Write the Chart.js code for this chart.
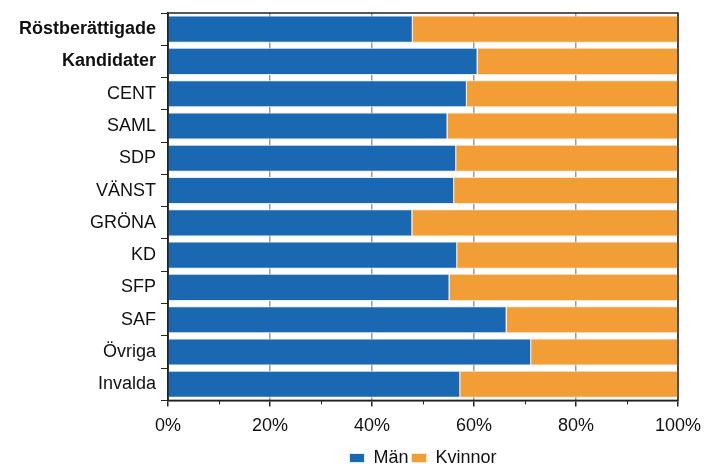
<!DOCTYPE html>
<html>
<head>
<meta charset="utf-8">
<script src="https://cdn.jsdelivr.net/npm/chart.js@4"></script>
<style>
html,body{margin:0;padding:0;background:#fff;}
#wrap{width:705px;height:464px;position:relative;}
</style>
</head>
<body>
<div id="wrap"><canvas id="c" width="705" height="464"></canvas></div>
<script>
const categories = ["Röstberättigade","Kandidater","CENT","SAML","SDP","VÄNST","GRÖNA","KD","SFP","SAF","Övriga","Invalda"];
const boldCategories = ["Röstberättigade","Kandidater"];
const manValues = [48.0, 60.7, 58.6, 54.8, 56.5, 56.1, 47.9, 56.7, 55.2, 66.4, 71.2, 57.3];
const kvinnorValues = [52.0, 39.3, 41.4, 45.2, 43.5, 43.9, 52.1, 43.3, 44.8, 33.6, 28.8, 42.7];
const seriesNames = ["Män", "Kvinnor"];
const xTickLabels = ["0%","","20%","","40%","","60%","","80%","","100%"];

const FONT = "'Liberation Sans', Arial, sans-serif";

const framePlugin = {
  id: 'frame',
  beforeDraw(chart) {
    // centre the legend under the plot area instead of the whole canvas
    const lg = chart.legend, a = chart.chartArea;
    if (lg && !lg._shifted) {
      const delta = (a.left + a.right) / 2 - (lg.left + lg.right) / 2;
      lg.left += delta; lg.right += delta;
      lg._shifted = true;
    }
  },
  afterDatasetsDraw(chart) {
    const a = chart.chartArea, ctx = chart.ctx, x = chart.scales.x;
    ctx.save();
    ctx.strokeStyle = '#222';
    ctx.lineWidth = 1.5;
    ctx.strokeRect(a.left, a.top, a.right - a.left, a.bottom - a.top);
    // short minor tick marks
    ctx.lineWidth = 1;
    x.ticks.forEach(t => {
      if (t.value % 20 !== 0) {
        const px = Math.round(x.getPixelForValue(t.value)) + 0.5;
        ctx.beginPath(); ctx.moveTo(px, a.bottom); ctx.lineTo(px, a.bottom + 4); ctx.stroke();
      }
    });
    ctx.restore();
  }
};

new Chart(document.getElementById('c'), {
  type: 'bar',
  data: {
    labels: categories,
    datasets: [
      { label: seriesNames[0], data: manValues, backgroundColor: '#1a68b1', borderColor: '#e3edf7', borderWidth: 1 },
      { label: seriesNames[1], data: kvinnorValues, backgroundColor: '#f29d35', borderColor: '#fbe6cc', borderWidth: 1 }
    ]
  },
  options: {
    indexAxis: 'y',
    responsive: false,
    animation: false,
    layout: { padding: { left: 0, right: 27, top: 13, bottom: -13 } },
    datasets: { bar: { categoryPercentage: 1.0, barPercentage: 0.84 } },
    scales: {
      x: {
        stacked: true,
        min: 0, max: 100,
        afterFit: (scale) => { scale.paddingLeft = 0; scale.paddingRight = 0; },
        ticks: {
          stepSize: 10,
          autoSkip: false,
          maxRotation: 0,
          color: '#111',
          font: { family: FONT, size: 18 },
          padding: 9,
          callback: (v, i) => xTickLabels[i]
        },
        grid: {
          color: (ctx) => (ctx.tick && ctx.tick.value % 20 === 0) ? '#9a9a9a' : 'rgba(0,0,0,0)',
          tickColor: (ctx) => (ctx.tick && ctx.tick.value % 20 === 0) ? '#222' : 'rgba(0,0,0,0)',
          tickLength: 6,
          lineWidth: 1.5
        },
        border: { color: '#222', width: 1.5 }
      },
      y: {
        stacked: true,
        afterFit: (scale) => { scale.width = 168; scale.paddingTop = 0; scale.paddingBottom = 0; },
        ticks: {
          color: '#111',
          padding: 5,
          font: (ctx) => ({ family: FONT, size: 18, weight: (ctx.tick && boldCategories.includes(categories[ctx.index])) ? 'bold' : 'normal' })
        },
        grid: { drawOnChartArea: false, tickColor: '#222', tickLength: 7 },
        border: { color: '#222', width: 1.5 }
      }
    },
    plugins: {
      legend: {
        position: 'bottom',
        labels: {
          boxWidth: 15, boxHeight: 9,
          color: '#111',
          padding: 3,
          font: { family: FONT, size: 18 }
        }
      },
      tooltip: { enabled: false }
    }
  },
  plugins: [framePlugin]
});
</script>
</body>
</html>
